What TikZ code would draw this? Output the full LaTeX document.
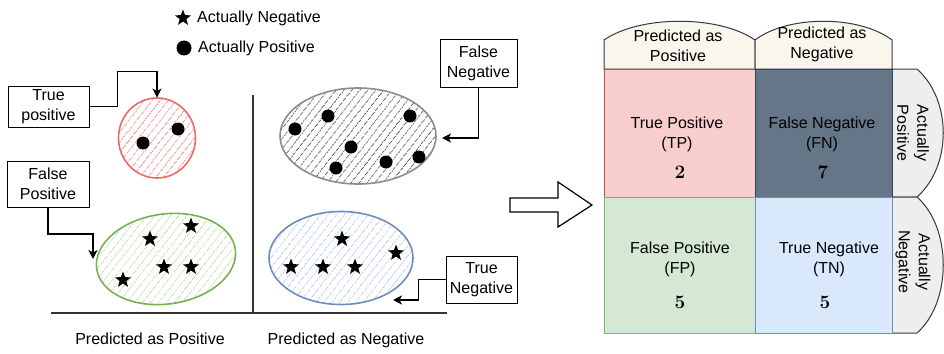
\documentclass[tikz,border=0pt]{standalone}
\usepackage{fontspec}
\setsansfont{Liberation Sans}
\usetikzlibrary{shapes.geometric,arrows.meta,patterns.meta,calc}

\definecolor{tpfill}{HTML}{F8CECC}\definecolor{tpline}{HTML}{B85450}
\definecolor{fnfill}{HTML}{647687}\definecolor{fnline}{HTML}{314354}
\definecolor{fpfill}{HTML}{D5E8D4}\definecolor{fpline}{HTML}{82B366}
\definecolor{tnfill}{HTML}{DAE8FC}\definecolor{tnline}{HTML}{6C8EBF}
\definecolor{tabfill}{HTML}{F9F7ED}\definecolor{tabline}{HTML}{36393D}
\definecolor{sidefill}{HTML}{EEEEEE}
\definecolor{redset}{HTML}{EA6B66}\definecolor{redhatch}{HTML}{EE8C88}
\definecolor{greenset}{HTML}{77B155}\definecolor{greenhatch}{HTML}{B9E0A5}
\definecolor{blueset}{HTML}{6C8EBF}\definecolor{bluehatch}{HTML}{B3CBEE}
\definecolor{grayset}{HTML}{8C8C8C}\definecolor{grayhatch}{HTML}{5A5A5A}
\definecolor{axis}{HTML}{333333}

\tikzset{
  lbl/.style={font=\sffamily\fontsize{16}{20}\selectfont, align=center, inner sep=0},
  lbox/.style={lbl, draw=black, line width=1pt, fill=white},
  conn/.style={draw=black, line width=1.3pt, -{Stealth[length=9pt,width=9pt,inset=2.5pt]}},
  setell/.style={ellipse, line width=1.6pt, inner sep=0},
  hatch/.style={pattern={Lines[angle=52,distance=6.5pt,line width=0.9pt]}, pattern color=#1},
  pstar/.style={star, star points=5, star point ratio=2.4, fill=black, inner sep=0, minimum size=17},
  pdot/.style={circle, fill=black, inner sep=0, minimum size=13},
  cellbox/.style={anchor=north west, inner sep=0, line width=1.3pt},
  tab/.style={draw=tabline, line width=1pt, fill=#1},
  num/.style={font=\rmfamily\bfseries\fontsize{19}{22}\selectfont, inner sep=0, text=black},
}

\begin{document}
\begin{tikzpicture}[x=1pt, y=-1pt]
\useasboundingbox (0,0) rectangle (944,353);

% legend
\node[pstar] (legstar) at (183,18) {};
\node[lbl, anchor=west] (legneg) at (197,18) {Actually Negative};
\node[pdot, minimum size=15] (legdot) at (184,48) {};
\node[lbl, anchor=west] (legpos) at (198,48) {Actually Positive};

% axes
\draw[axis, line width=1.5pt] (253,95) -- (253,313);
\draw[axis, line width=1.5pt] (51,313) -- (447,313);
\node[lbl] (xpos) at (150,339) {Predicted as Positive};
\node[lbl] (xneg) at (346,340) {Predicted as Negative};

% the four sets
\node[setell, draw=redset, hatch=redhatch, minimum width=77, minimum height=80] (redell) at (157,138) {};
\node[setell, draw=greenset, hatch=greenhatch, minimum width=140, minimum height=90, rotate=8] (greenell) at (166,259) {};
\node[setell, draw=grayset, hatch=grayhatch, minimum width=156, minimum height=96] (grayell) at (358,136) {};
\node[setell, draw=blueset, hatch=bluehatch, minimum width=144, minimum height=93] (blueell) at (341,258) {};

\foreach \p [count=\i] in {(143,143),(178,129)}
  \node[pdot] (rd\i) at \p {};
\foreach \p [count=\i] in {(295,129),(328,116),(410,116),(351,147),(336,168),(386,162),(419,157)}
  \node[pdot] (gd\i) at \p {};
\foreach \p [count=\i] in {(150,239),(191,226),(164,267),(191,267),(123,280)}
  \node[pstar] (gs\i) at \p {};
\foreach \p [count=\i] in {(342,239),(396,253),(291,267),(323,267),(355,267)}
  \node[pstar] (bs\i) at \p {};

% callout boxes
\node[lbox, minimum width=81, minimum height=41] (tpbox) at (48.5,106.5) {True\\positive};
\node[lbox, minimum width=82, minimum height=46] (fpbox) at (48,184) {False\\Positive};
\node[lbox, minimum width=77, minimum height=47] (fnbox) at (478.5,63.5) {False\\Negative};
\node[lbox, minimum width=71, minimum height=47] (tnbox) at (481.5,279.5) {True\\Negative};

\coordinate (fptip) at (93,259);
\coordinate (fntip) at (442,138);
\coordinate (tntip) at (393,300);

\draw[conn] (tpbox.east) -- ++(28,0) |- ($(redell.north)+(0,-26)$) -- (redell.north);
\draw[conn] (fpbox.south) |- ($(fptip)+(0,-25)$) -- (fptip);
\draw[conn] (fnbox.south) |- (fntip);
\draw[conn] (tnbox.west) -- ++(-27,0) |- (tntip);

% hollow arrow
\draw[line width=1.2pt, fill=white] (510,198) -- (558,198) -- (558,182) -- (592,205)
  -- (558,227) -- (558,212) -- (510,212) -- cycle;

% confusion matrix: header tabs
\draw[tab=tabfill] (604,69) -- (604,40) .. controls (640,15) and (719,15) .. (755,40) -- (755,69) -- cycle;
\draw[tab=tabfill] (755,69) -- (755,40) .. controls (788,15) and (859,15) .. (892,40) -- (892,69) -- cycle;
\draw[tab=sidefill] (892,69) -- (917,69) .. controls (952,100) and (952,166) .. (917,197) -- (892,197) -- cycle;
\draw[tab=sidefill] (892,197) -- (917,197) .. controls (952,228) and (952,302) .. (917,333) -- (892,333) -- cycle;
\node[lbl] (hpos) at (678,46) {Predicted as\\Positive};
\node[lbl] (hneg) at (822,44) {Predicted as\\Negative};
\node[lbl, rotate=-90] (rpos) at (913,133) {Actually\\Positive};
\node[lbl, rotate=-90] (rneg) at (913,262) {Actually\\Negative};

% confusion matrix: cells
\node[cellbox, fill=tpfill, draw=tpline, minimum width=151, minimum height=128] (tpc) at (604,69) {};
\node[cellbox, fill=fnfill, draw=fnline, minimum width=137, minimum height=128] (fnc) at (755,69) {};
\node[cellbox, fill=fpfill, draw=fpline, minimum width=151, minimum height=136] (fpc) at (604,197) {};
\node[cellbox, fill=tnfill, draw=tnline, minimum width=137, minimum height=136] (tnc) at (755,197) {};

\node[lbl] (tpt) at (677,134) {True Positive\\(TP)};
\node[num] (tpn) at (680,172) {2};
\node[lbl] (fnt) at (822,134) {False Negative\\(FN)};
\node[num] (fnn) at (823,172) {7};
\node[lbl] (fpt) at (680,259) {False Positive\\(FP)};
\node[num] (fpn) at (680,302) {5};
\node[lbl] (tnt) at (829,259) {True Negative\\(TN)};
\node[num] (tnn) at (825,302) {5};
\end{tikzpicture}
\end{document}
